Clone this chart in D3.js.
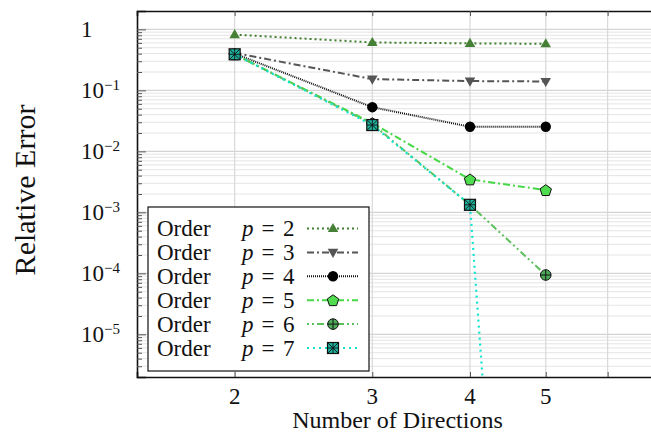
<!DOCTYPE html>
<html>
<head>
<meta charset="utf-8">
<script src="https://cdnjs.cloudflare.com/ajax/libs/d3/7.8.5/d3.min.js"></script>
<style>
  body { margin: 0; background: #fff; }
  text { font-family: "Liberation Serif", "DejaVu Serif", serif; fill: #111; }
</style>
</head>
<body>
<div id="chart"></div>
<script>
// data
var directions = [2, 3, 4, 5];
var orderLabels = [2, 3, 4, 5, 6, 7];
var errP2 = [0.82, 0.61, 0.59, 0.58];
var errP3 = [0.41, 0.153, 0.142, 0.14];
var errP4 = [0.40, 0.053, 0.0253, 0.0253];
var errP5 = [0.39, 0.029, 0.00347, 0.00232];
var errP6 = [0.39, 0.028, 0.00133, 9.4e-5];
var errP7 = [0.39, 0.027, 0.00133, 1e-20];
var yMajor = [1, 1e-1, 1e-2, 1e-3, 1e-4, 1e-5];
var yMajorExp = [0, -1, -2, -3, -4, -5];
var xTicks = [2, 3, 4, 5, 6];
var xTickLabels = ['2', '3', '4', '5', ''];

var series = [
  { p: 2, vals: errP2, color: '#3f7f2e', dash: '2,3', width: 2, marker: 'triUp', fill: '#467f36' },
  { p: 3, vals: errP3, color: '#555555', dash: '7,3,2,3', width: 2, marker: 'triDown', fill: '#555555' },
  { p: 4, vals: errP4, color: '#111111', dash: '1,1', width: 2, marker: 'circle', fill: '#000000' },
  { p: 5, vals: errP5, color: '#44d944', dash: '7,3,2,3', width: 2, marker: 'pentagon', fill: '#4fdc4f' },
  { p: 6, vals: errP6, color: '#5cc05c', dash: '2,3,2,3,7,3', width: 2, marker: 'oplus', fill: '#4daa58' },
  { p: 7, vals: errP7, color: '#10e4d0', dash: '2,4', width: 2.2, marker: 'square', fill: '#1db39e' }
];

var width = 651, height = 433;
var padL = 137, padT = 11, padB = 377;

var x = d3.scaleLog().domain([1.5, 7]).range([padL, padL + 339.5 * Math.log(7 / 1.5)]);
var y = d3.scaleLog().domain([2e-6, 2]).range([padB, padT]);
var padR = x.range()[1];

var svg = d3.select('#chart').append('svg')
  .attr('width', width)
  .attr('height', height);

svg.append('defs').append('clipPath').attr('id', 'plotclip')
  .append('rect')
  .attr('x', padL).attr('y', padT)
  .attr('width', padR - padL).attr('height', padB - padT);

// minor grid
var yMinor = [];
for (var k = -6; k <= 0; k++) {
  for (var m = 2; m <= 9; m++) {
    var v = m * Math.pow(10, k);
    if (v > 2e-6 && v < 2) yMinor.push(v);
  }
}
svg.append('g').selectAll('line').data(yMinor).enter().append('line')
  .attr('x1', padL).attr('x2', padR)
  .attr('y1', function(d) { return y(d); }).attr('y2', function(d) { return y(d); })
  .attr('stroke', '#e4e4e4').attr('stroke-width', 1);

svg.append('g').selectAll('line').data(yMajor).enter().append('line')
  .attr('x1', padL).attr('x2', padR)
  .attr('y1', function(d) { return y(d); }).attr('y2', function(d) { return y(d); })
  .attr('stroke', '#d4d4d4').attr('stroke-width', 1.2);

svg.append('g').selectAll('line').data(xTicks).enter().append('line')
  .attr('y1', padT).attr('y2', padB)
  .attr('x1', function(d) { return x(d); }).attr('x2', function(d) { return x(d); })
  .attr('stroke', '#d8d8d8').attr('stroke-width', 1.2);

// axes with inward ticks
svg.append('g').attr('transform', 'translate(' + padL + ',0)')
  .call(d3.axisLeft(y).tickValues(yMajor).tickSize(-9).tickFormat(''));
svg.append('g').attr('transform', 'translate(' + padL + ',0)')
  .call(d3.axisLeft(y).tickValues(yMinor).tickSize(-5).tickFormat(''))
  .select('.domain').remove();
svg.append('g').attr('transform', 'translate(0,' + padB + ')')
  .call(d3.axisBottom(x).tickValues(xTicks).tickSize(-5).tickFormat(''));
svg.append('g').attr('transform', 'translate(0,' + padT + ')')
  .call(d3.axisTop(x).tickValues(xTicks).tickSize(-5).tickFormat(''));
svg.selectAll('.domain').attr('stroke', '#111').attr('stroke-width', 1.6);
svg.selectAll('.tick line').attr('stroke', '#555').attr('stroke-width', 1);

// y tick labels
var ylab = svg.append('g').selectAll('text').data(yMajor).enter().append('text')
  .attr('x', 81)
  .attr('y', function(d) { return y(d) + 7.5; })
  .style('font-size', '23px');
ylab.each(function(d, i) {
  var t = d3.select(this);
  if (yMajorExp[i] === 0) { t.text('1'); return; }
  t.append('tspan').text('10');
  t.append('tspan').attr('dy', -8).style('font-size', '15px').text('\u2212' + Math.abs(yMajorExp[i]));
});

// x tick labels
svg.append('g').selectAll('text').data(xTicks).enter().append('text')
  .attr('x', function(d) { return x(d); })
  .attr('y', 404)
  .attr('text-anchor', 'middle')
  .style('font-size', '23px')
  .text(function(d, i) { return xTickLabels[i]; });

svg.append('text')
  .attr('x', 397.5).attr('y', 428)
  .attr('text-anchor', 'middle')
  .style('font-size', '24px')
  .text('Number of Directions');

svg.append('text')
  .attr('transform', 'translate(35,190) rotate(-90)')
  .attr('text-anchor', 'middle')
  .style('font-size', '30px')
  .text('Relative Error');

// markers
function drawMarker(g, type, fill, cx, cy) {
  var s = g.append('g').attr('transform', 'translate(' + cx + ',' + cy + ')');
  if (type === 'triUp') {
    s.append('path').attr('d', d3.symbol(d3.symbolTriangle, 48)()).attr('fill', fill)
      .attr('transform', 'translate(0,0.5)');
  } else if (type === 'triDown') {
    s.append('path').attr('d', d3.symbol(d3.symbolTriangle, 48)()).attr('fill', fill)
      .attr('transform', 'translate(0,-0.5) rotate(180)');
  } else if (type === 'circle') {
    s.append('circle').attr('r', 5.2).attr('fill', fill);
  } else if (type === 'pentagon') {
    var pts = d3.range(5).map(function(i) {
      var a = -Math.PI / 2 + i * 2 * Math.PI / 5;
      return [6 * Math.cos(a), 6 * Math.sin(a) + 0.6];
    });
    s.append('path').attr('d', d3.line()(pts) + 'Z')
      .attr('fill', fill).attr('stroke', '#111').attr('stroke-width', 1);
  } else if (type === 'oplus') {
    s.append('circle').attr('r', 5.3).attr('fill', fill).attr('stroke', '#111').attr('stroke-width', 1);
    s.append('path').attr('d', 'M-5.3,0H5.3M0,-5.3V5.3').attr('stroke', '#111').attr('stroke-width', 1);
  } else if (type === 'square') {
    s.append('rect').attr('x', -5.5).attr('y', -5.5).attr('width', 11).attr('height', 11)
      .attr('fill', fill).attr('stroke', '#111').attr('stroke-width', 1.2);
    s.append('path').attr('d', 'M-5.5,-5.5L5.5,5.5M5.5,-5.5L-5.5,5.5M0,-5.5V5.5M-5.5,0H5.5')
      .attr('stroke', '#111').attr('stroke-width', 0.9);
  }
}

var line = d3.line()
  .x(function(d) { return x(d[0]); })
  .y(function(d) { return y(d[1]); });

var plot = svg.append('g').attr('clip-path', 'url(#plotclip)');
series.forEach(function(s) {
  var pts = directions.map(function(d, i) { return [d, s.vals[i]]; });
  plot.append('path')
    .attr('d', line(pts))
    .attr('fill', 'none')
    .attr('stroke', s.color)
    .attr('stroke-width', s.width)
    .attr('stroke-dasharray', s.dash);
});
series.forEach(function(s) {
  directions.forEach(function(d, i) {
    drawMarker(plot, s.marker, s.fill, x(d), y(s.vals[i]));
  });
});

// legend
var lg = svg.append('g');
lg.append('rect')
  .attr('x', 148).attr('y', 207).attr('width', 221).attr('height', 164)
  .attr('fill', '#fff').attr('stroke', '#111').attr('stroke-width', 1.2);
var rowH = 23.9;
series.forEach(function(s, i) {
  var cy = 228.5 + i * rowH;
  var by = cy + 7.5;
  lg.append('text').attr('x', 157).attr('y', by).style('font-size', '23px').text('Order');
  lg.append('text').attr('x', 242).attr('y', by).style('font-size', '23px')
    .style('font-style', 'italic').text('p');
  lg.append('text').attr('x', 268).attr('y', by).attr('text-anchor', 'middle')
    .style('font-size', '23px').text('=');
  lg.append('text').attr('x', 283).attr('y', by).style('font-size', '23px')
    .text(orderLabels[i]);
  lg.append('line')
    .attr('x1', 307).attr('x2', 358).attr('y1', cy).attr('y2', cy)
    .attr('stroke', s.color).attr('stroke-width', s.width)
    .attr('stroke-dasharray', s.dash);
  drawMarker(lg, s.marker, s.fill, 333, cy);
});
</script>
</body>
</html>
